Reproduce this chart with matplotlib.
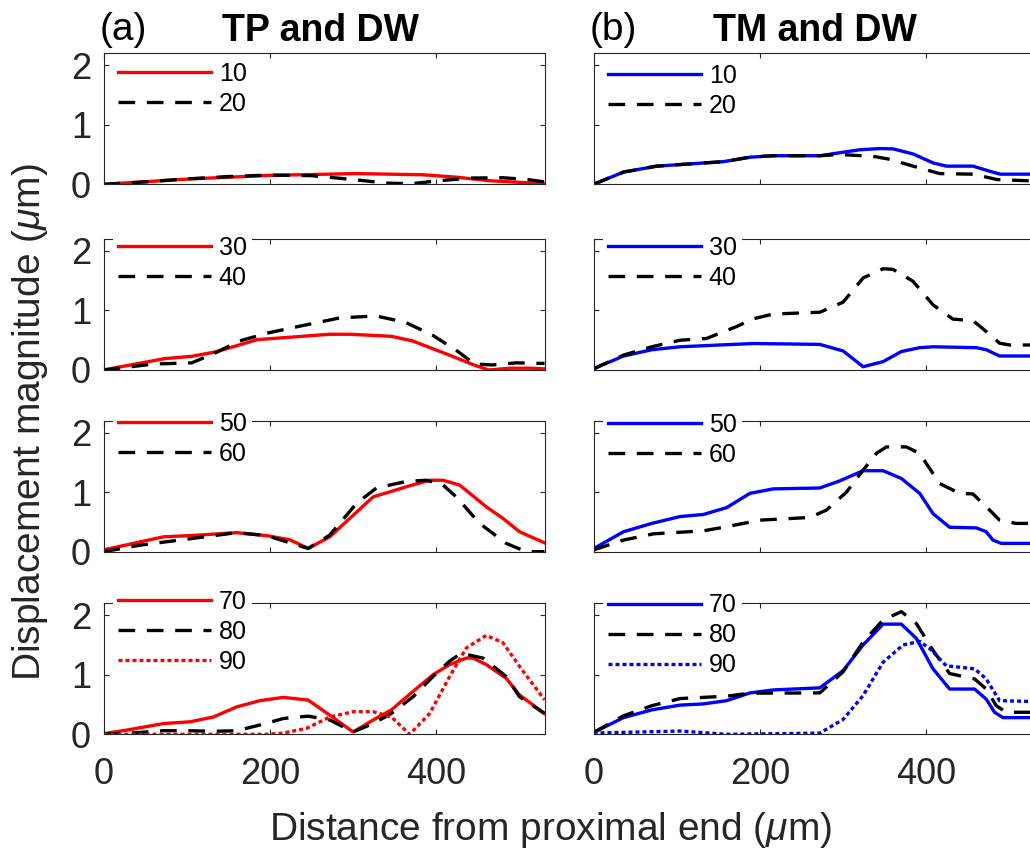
import matplotlib.pyplot as plt

plt.rcParams['font.family'] = ['Liberation Sans', 'DejaVu Sans']
plt.rcParams['mathtext.fontset'] = 'custom'
plt.rcParams['mathtext.rm'] = 'Liberation Sans'
plt.rcParams['mathtext.it'] = 'Liberation Sans:italic'

# (a) TP and DW -- displacement magnitude (um) vs distance (um)
tp_x_10 = [0, 104, 200, 304, 384, 424, 464, 530]
tp_y_10 = [0, 0.09, 0.15, 0.18, 0.16, 0.12, 0.06, 0.01]
tp_x_20 = [0, 50, 100, 150, 200, 250, 300, 340, 370, 400, 440, 480, 510, 530]
tp_y_20 = [0, 0.04, 0.09, 0.13, 0.155, 0.145, 0.08, 0.02, 0.01, 0.055, 0.105, 0.11, 0.08, 0.04]
tp_x_30 = [0, 73, 106, 135, 185, 272, 297, 346, 371, 413, 446, 463, 488, 512, 530]
tp_y_30 = [0, 0.19, 0.23, 0.305, 0.51, 0.6, 0.6, 0.565, 0.49, 0.265, 0.08, 0.0, 0.03, 0.03, 0.02]
tp_x_40 = [0, 60, 106, 131, 164, 197, 239, 284, 317, 330, 363, 396, 425, 446, 467, 496, 530]
tp_y_40 = [0, 0.1, 0.12, 0.265, 0.49, 0.62, 0.745, 0.875, 0.9, 0.9, 0.8, 0.58, 0.32, 0.1, 0.085, 0.12, 0.11]
tp_x_50 = [0, 72, 104, 160, 196, 224, 246, 272, 324, 364, 392, 408, 428, 460, 480, 500, 530]
tp_y_50 = [0.03, 0.25, 0.27, 0.32, 0.27, 0.2, 0.055, 0.25, 0.92, 1.09, 1.2, 1.2, 1.12, 0.754, 0.56, 0.335, 0.15]
tp_x_60 = [0, 44, 100, 160, 196, 246, 272, 304, 328, 364, 388, 408, 424, 452, 484, 508, 530]
tp_y_60 = [0, 0.11, 0.21, 0.32, 0.27, 0.055, 0.28, 0.81, 1.07, 1.18, 1.2, 1.12, 0.92, 0.475, 0.14, 0.0, 0.0]
tp_x_70 = [0, 32, 72, 104, 132, 160, 188, 216, 246, 272, 300, 324, 346, 372, 396, 416, 436, 444, 460, 484, 500, 530]
tp_y_70 = [0.01, 0.08, 0.18, 0.21, 0.29, 0.46, 0.565, 0.62, 0.575, 0.32, 0.04, 0.24, 0.41, 0.72, 1.0, 1.17, 1.28, 1.28, 1.17, 0.94, 0.66, 0.35]
tp_x_80 = [0, 32, 72, 104, 132, 160, 192, 216, 246, 272, 300, 324, 346, 372, 396, 416, 430, 456, 484, 500, 530]
tp_y_80 = [0, 0.02, 0.06, 0.06, 0.05, 0.06, 0.17, 0.265, 0.305, 0.24, 0.04, 0.18, 0.35, 0.63, 0.97, 1.23, 1.36, 1.28, 0.97, 0.63, 0.35]
tp_x_90 = [0, 196, 216, 244, 272, 300, 324, 346, 368, 392, 416, 436, 460, 480, 500, 530]
tp_y_90 = [0, 0, 0.02, 0.1, 0.29, 0.38, 0.38, 0.29, 0.0, 0.35, 0.97, 1.45, 1.66, 1.54, 1.14, 0.58]

# (b) TM and DW
tm_x_10 = [0, 36, 76, 156, 188, 216, 272, 296, 320, 344, 360, 384, 408, 424, 456, 476, 489, 530]
tm_y_10 = [0, 0.205, 0.305, 0.38, 0.455, 0.48, 0.48, 0.53, 0.58, 0.6, 0.595, 0.51, 0.36, 0.305, 0.305, 0.22, 0.17, 0.17]
tm_x_20 = [0, 36, 76, 156, 188, 216, 272, 296, 336, 356, 384, 416, 456, 485, 530]
tm_y_20 = [0, 0.205, 0.305, 0.38, 0.455, 0.48, 0.48, 0.5, 0.47, 0.42, 0.305, 0.18, 0.17, 0.08, 0.055]
tm_x_30 = [0, 36, 70, 104, 152, 192, 272, 300, 324, 348, 370, 392, 408, 460, 472, 488, 530]
tm_y_30 = [0.02, 0.235, 0.34, 0.39, 0.42, 0.445, 0.43, 0.32, 0.055, 0.14, 0.31, 0.375, 0.39, 0.375, 0.34, 0.235, 0.235]
tm_x_40 = [0, 36, 70, 104, 136, 172, 192, 216, 272, 300, 324, 348, 360, 384, 408, 432, 456, 472, 488, 500, 530]
tm_y_40 = [0.02, 0.25, 0.39, 0.5, 0.53, 0.73, 0.86, 0.94, 0.97, 1.14, 1.545, 1.7, 1.69, 1.49, 1.095, 0.854, 0.83, 0.646, 0.45, 0.42, 0.42]
tm_x_50 = [0, 36, 70, 104, 132, 160, 188, 216, 272, 296, 324, 348, 370, 392, 408, 428, 460, 472, 480, 490, 530]
tm_y_50 = [0.05, 0.335, 0.475, 0.59, 0.625, 0.74, 0.98, 1.055, 1.07, 1.19, 1.36, 1.36, 1.23, 0.98, 0.64, 0.41, 0.4, 0.335, 0.195, 0.14, 0.14]
tm_x_60 = [0, 36, 72, 132, 160, 200, 260, 280, 304, 324, 340, 352, 376, 392, 416, 440, 456, 476, 488, 508, 530]
tm_y_60 = [0.03, 0.195, 0.3, 0.35, 0.42, 0.53, 0.575, 0.7, 1.0, 1.37, 1.65, 1.76, 1.76, 1.65, 1.145, 0.98, 0.97, 0.7, 0.53, 0.475, 0.475]
tm_x_70 = [0, 36, 70, 104, 132, 160, 188, 216, 272, 300, 324, 348, 370, 388, 408, 428, 458, 472, 482, 492, 530]
tm_y_70 = [0.03, 0.28, 0.41, 0.49, 0.51, 0.565, 0.695, 0.745, 0.78, 1.07, 1.5, 1.85, 1.85, 1.61, 1.1, 0.76, 0.76, 0.59, 0.37, 0.28, 0.28]
tm_x_80 = [0, 36, 70, 104, 160, 188, 272, 300, 324, 348, 370, 388, 408, 428, 458, 472, 484, 496, 530]
tm_y_80 = [0.03, 0.31, 0.48, 0.6, 0.64, 0.69, 0.695, 1.05, 1.55, 1.92, 2.06, 1.86, 1.41, 1.02, 0.93, 0.76, 0.48, 0.37, 0.37]
tm_x_90 = [0, 104, 160, 272, 300, 324, 348, 372, 392, 404, 424, 458, 472, 488, 530]
tm_y_90 = [0.02, 0.055, 0.0, 0.02, 0.25, 0.65, 1.21, 1.5, 1.56, 1.44, 1.15, 1.1, 0.93, 0.565, 0.55]

RED, BLUE, BLACK = '#ff0000', '#0000ff', 'black'
SOLID = '-'
DASH = (0, (5, 3.5))
DOT = (0, (1.2, 0.9))

# one entry per panel: (x, y, label, color, style)
panels_tp = [
    [(tp_x_10, tp_y_10, '10', RED, SOLID), (tp_x_20, tp_y_20, '20', BLACK, DASH)],
    [(tp_x_30, tp_y_30, '30', RED, SOLID), (tp_x_40, tp_y_40, '40', BLACK, DASH)],
    [(tp_x_50, tp_y_50, '50', RED, SOLID), (tp_x_60, tp_y_60, '60', BLACK, DASH)],
    [(tp_x_70, tp_y_70, '70', RED, SOLID), (tp_x_80, tp_y_80, '80', BLACK, DASH),
     (tp_x_90, tp_y_90, '90', RED, DOT)],
]
panels_tm = [
    [(tm_x_10, tm_y_10, '10', BLUE, SOLID), (tm_x_20, tm_y_20, '20', BLACK, DASH)],
    [(tm_x_30, tm_y_30, '30', BLUE, SOLID), (tm_x_40, tm_y_40, '40', BLACK, DASH)],
    [(tm_x_50, tm_y_50, '50', BLUE, SOLID), (tm_x_60, tm_y_60, '60', BLACK, DASH)],
    [(tm_x_70, tm_y_70, '70', BLUE, SOLID), (tm_x_80, tm_y_80, '80', BLACK, DASH),
     (tm_x_90, tm_y_90, '90', BLUE, DOT)],
]

W, H = 1030, 858
AX_W, AX_H = 441, 131
col_left = [103.5, 593.5]
row_top = [53.3, 239, 420.7, 603.3]
# pixel y of the first legend row centre, per column
leg_row1 = [[71.7, 246, 421.7, 600], [74, 245.7, 422.7, 603.3]]
INK = '#262626'

fig = plt.figure(figsize=(W / 100, H / 100), dpi=100)

for c, panels in enumerate([panels_tp, panels_tm]):
    for r, series in enumerate(panels):
        ax = fig.add_axes([col_left[c] / W, 1 - (row_top[r] + AX_H) / H, AX_W / W, AX_H / H])
        for x, y, lab, col, ls in series:
            ax.plot(x, y, color=col, linestyle=ls, lw=2.4, label=lab)
        ax.set_xlim(0, 530)
        ax.set_ylim(0, 2.2)
        ax.set_xticks([0, 200, 400])
        ax.set_yticks([0, 1, 2])
        ax.tick_params(direction='in', length=3.5, width=0.8, top=True, right=True,
                       labelsize=26, colors=INK)
        ax.tick_params(axis='x', pad=16, labelbottom=(r == 3))
        ax.tick_params(axis='y', pad=9, labelleft=(c == 0))
        for sp in ax.spines.values():
            sp.set_color(INK)
            sp.set_linewidth(0.8)
        top_px = leg_row1[c][r] - 15
        ax.legend(loc='upper left', bbox_to_anchor=((col_left[c] + 9) / W, 1 - top_px / H),
                  bbox_transform=fig.transFigure, fontsize=18, frameon=True,
                  facecolor='white', edgecolor='none', fancybox=False, framealpha=1,
                  borderpad=0.2, handlelength=3.75, handletextpad=0.3,
                  labelspacing=0.24, borderaxespad=0)

fig.text(100 / W, 1 - 30 / H, '(a)', fontsize=28, ha='left', va='center')
fig.text(321 / W, 1 - 31 / H, 'TP and DW', fontsize=27, weight='bold', ha='center', va='center')
fig.text(590 / W, 1 - 30 / H, '(b)', fontsize=28, ha='left', va='center')
fig.text(815 / W, 1 - 31 / H, 'TM and DW', fontsize=27, weight='bold', ha='center', va='center')
fig.text(30 / W, 1 - 422 / H, 'Displacement magnitude ($\\mu$m)', fontsize=28, color=INK,
         rotation=90, ha='center', va='center')
fig.text(551 / W, 1 - 830 / H, 'Distance from proximal end ($\\mu$m)', fontsize=28, color=INK,
         ha='center', va='center')

fig.savefig('out.png', dpi=100)
